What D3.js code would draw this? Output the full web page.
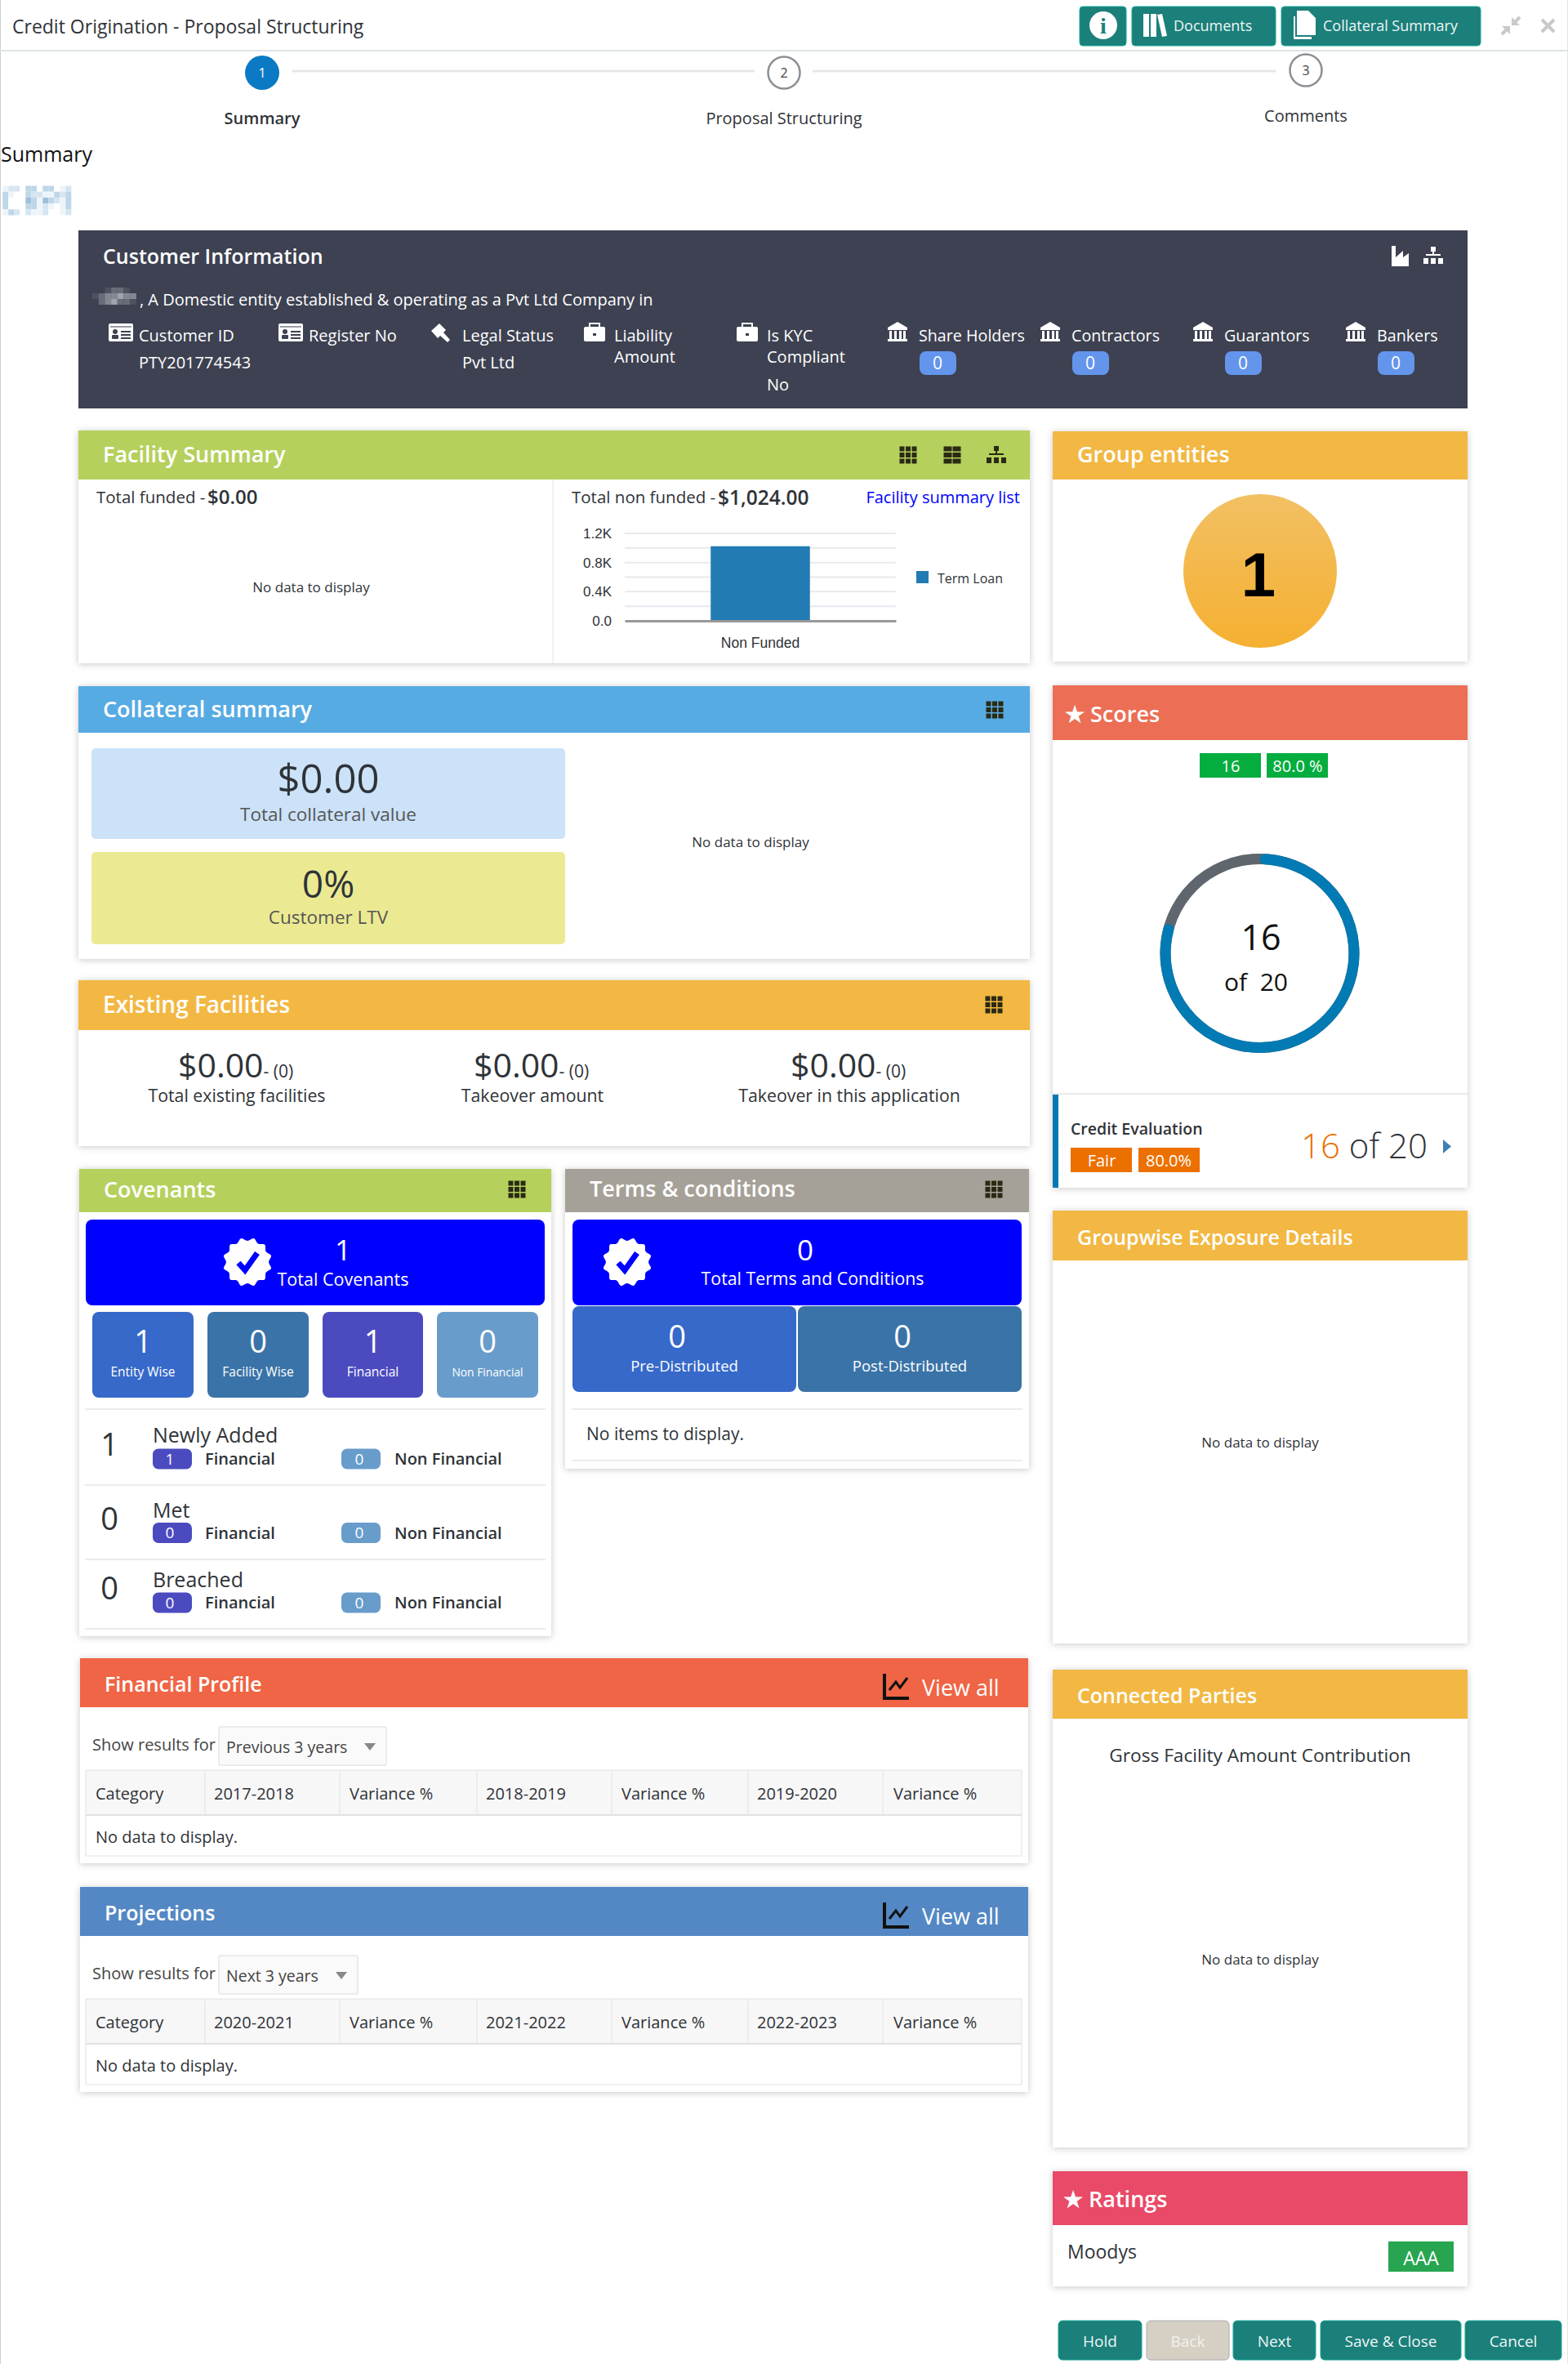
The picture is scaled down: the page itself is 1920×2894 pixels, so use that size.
<!DOCTYPE html>
<html>
<head>
<meta charset="utf-8">
<script src="https://cdn.jsdelivr.net/npm/d3@7"></script>
<style>
  html, body { margin: 0; padding: 0; background: #fff; }
  svg { display: block; font-family: "Open Sans", "Noto Sans", sans-serif; }
  text { white-space: pre; }
</style>
</head>
<body>
<svg id="page" width="1920" height="2894"></svg>
<script>
// values
const steps = ["Summary", "Proposal Structuring", "Comments"];
const topButtons = ["Documents", "Collateral Summary"];
const infoColumns = ["Customer ID", "Register No", "Legal Status"];
const infoValues = ["PTY201774543", "", "Pvt Ltd"];
const partyNames = ["Share Holders", "Contractors", "Guarantors", "Bankers"];
const partyCounts = [0, 0, 0, 0];

// facility chart
const facilityCategories = ["Non Funded"];
const facilityValues = [1024];
const facilitySeries = "Term Loan";
const facilityTicks = [0, 400, 800, 1200];
const facilityTickLabels = ["0.0", "0.4K", "0.8K", "1.2K"];
const facilityGrid = [200, 400, 600, 800, 1000, 1200];

// score ring
const scoreValue = 16;
const scoreMax = 20;

const existingAmounts = ["$0.00", "$0.00", "$0.00"];
const existingLabels = ["Total existing facilities", "Takeover amount", "Takeover in this application"];

const covenantTiles = ["Entity Wise", "Facility Wise", "Financial", "Non Financial"];
const covenantTileValues = [1, 0, 1, 0];
const covenantRows = ["Newly Added", "Met", "Breached"];
const covenantRowTotals = [1, 0, 0];
const covenantRowFinancial = [1, 0, 0];
const covenantRowNonFinancial = [0, 0, 0];

const termsTiles = ["Pre-Distributed", "Post-Distributed"];
const termsTileValues = [0, 0];

const financialColumns = ["Category", "2017-2018", "Variance %", "2018-2019", "Variance %", "2019-2020", "Variance %"];
const projectionColumns = ["Category", "2020-2021", "Variance %", "2021-2022", "Variance %", "2022-2023", "Variance %"];
const bottomButtons = ["Hold", "Back", "Next", "Save & Close", "Cancel"];

const svg = d3.select("#page");
const TEAL = "#1b7f7a", DARK = "#2f3338", ICON = "#2a2a14", SLATE = "#3d4151";

// small helpers so the page code stays readable
function box(x0, y0, x1, y1, fill, r) {
  return svg.append("rect").attr("x", x0).attr("y", y0)
    .attr("width", x1 - x0).attr("height", y1 - y0)
    .attr("rx", r || 0).attr("fill", fill);
}
function txt(x, y, s, size, fill, opts) {
  opts = opts || {};
  return svg.append("text").attr("x", x).attr("y", y).attr("dy", "0.35em")
    .attr("font-size", size).attr("fill", fill || DARK)
    .attr("font-weight", opts.weight || 400)
    .attr("text-anchor", opts.anchor || "start")
    .text(s);
}
function hline(x0, x1, y, color, w) {
  svg.append("line").attr("x1", x0).attr("x2", x1).attr("y1", y).attr("y2", y)
    .attr("stroke", color).attr("stroke-width", w || 1);
}
function vline(x, y0, y1, color, w) {
  svg.append("line").attr("x1", x).attr("x2", x).attr("y1", y0).attr("y2", y1)
    .attr("stroke", color).attr("stroke-width", w || 1);
}
function card(x0, y0, x1, headBottom, y1, color, title, o) {
  o = o || {};
  svg.append("rect").attr("x", x0).attr("y", y0).attr("width", x1 - x0).attr("height", y1 - y0)
    .attr("fill", "#fff").style("filter", "drop-shadow(0 1px 4px rgba(0,0,0,.22))");
  box(x0, y0, x1, headBottom, color);
  txt(o.x || x0 + 30, (y0 + headBottom) / 2 + (o.dy || 0), title, o.size || 27, "#fff", { weight: 600 });
}
function gridIcon(cx, cy) {
  [-7.5, 0, 7.5].forEach(dx => [-7.5, 0, 7.5].forEach(dy => {
    box(cx + dx - 3, cy + dy - 3, cx + dx + 3, cy + dy + 3, ICON);
  }));
}
function listIcon(cx, cy) {
  [-5.5, 5.5].forEach(dx => [-7.5, 0, 7.5].forEach(dy => {
    box(cx + dx - 5, cy + dy - 3, cx + dx + 5, cy + dy + 3, ICON);
  }));
}
function treeIcon(cx, cy, color) {
  box(cx - 3, cy - 11, cx + 3, cy - 5, color);
  box(cx - 1, cy - 5, cx + 1, cy, color);
  box(cx - 9, cy - 2, cx + 9, cy, color);
  [-9, 0, 9].forEach(dx => box(cx + dx - 3, cy + 3, cx + dx + 3, cy + 10, color));
}
function idIcon(x, y) {
  box(x, y - 13, x + 30, y + 9, "#fff", 2);
  hline(x + 2, x + 28, y - 9, "#9a9da6", 2);
  svg.append("circle").attr("cx", x + 8).attr("cy", y - 3).attr("r", 3).attr("fill", SLATE);
  box(x + 4, y + 1, x + 12, y + 6, SLATE, 1);
  box(x + 15, y - 4, x + 27, y - 2, SLATE);
  box(x + 15, y, x + 27, y + 2, SLATE);
  box(x + 15, y + 4, x + 27, y + 6, SLATE);
}
function caseIcon(x, y) {
  box(x + 7, y - 13, x + 19, y - 7, "none").attr("stroke", "#fff").attr("stroke-width", 2);
  box(x, y - 9, x + 26, y + 9, "#fff", 2);
  box(x + 11, y - 1, x + 15, y + 2, SLATE);
}
function bankIcon(x, y) {
  svg.append("path").attr("fill", "#fff")
    .attr("d", `M${x} ${y - 6}L${x + 12} ${y - 13}L${x + 24} ${y - 6}V${y - 3}H${x}Z`);
  [2, 8, 14, 19].forEach(dx => box(x + dx, y - 2, x + dx + 3, y + 8, "#fff"));
  box(x, y + 8, x + 24, y + 11, "#fff");
}
function viewAll(y) {
  svg.append("path").attr("fill", "none").attr("stroke", "#111").attr("stroke-width", 4)
    .attr("d", `M1083 ${y - 18}V${y + 12}H1113`);
  svg.append("path").attr("fill", "none").attr("stroke", "#111").attr("stroke-width", 3)
    .attr("d", `M1089 ${y + 2}L1097 ${y - 8}L1102 ${y - 1}L1111 ${y - 13}`);
  txt(1129, y, "View all", 27, "#fff");
}
function seal(cx, cy) {
  // white scalloped seal with a blue tick
  const pts = d3.range(24).map(i => [i * Math.PI / 12, i % 2 ? 30 : 26]);
  svg.append("path").attr("fill", "#fff")
    .attr("transform", `translate(${cx},${cy})`)
    .attr("d", d3.lineRadial().curve(d3.curveCardinalClosed)(pts));
  svg.append("path").attr("fill", "none").attr("stroke", "#0000ff").attr("stroke-width", 7)
    .attr("d", `M${cx - 11} ${cy + 1}L${cx - 3} ${cy + 10}L${cx + 12} ${cy - 11}`);
}

// page edges
vline(0.5, 0, 2894, "#cfcfcf", 1);
vline(1919.5, 0, 2894, "#e4e4e4", 1);

// top bar
txt(15, 33, "Credit Origination - Proposal Structuring", 23, DARK);
hline(0, 1920, 62, "#dde3e6", 2);
function topButton(x0, x1) {
  box(x0, 8, x1, 56, TEAL, 4).attr("stroke", "#17a898").attr("stroke-width", 1);
}
topButton(1322, 1379);
svg.append("circle").attr("cx", 1351).attr("cy", 31).attr("r", 17).attr("fill", "#fff");
txt(1351, 31, "i", 28, TEAL, { anchor: "middle", weight: 700 }).attr("font-family", "Liberation Serif");
topButton(1386, 1562);
box(1400, 17, 1407, 45, "#fff");
box(1409, 17, 1416, 45, "#fff");
svg.append("path").attr("fill", "#fff").attr("d", "M1417 18l6-1 6 27-6 1z");
txt(1437, 32, topButtons[0], 18, "#eef6f5");
topButton(1569, 1813);
svg.append("path").attr("fill", "#fff").attr("d", "M1588 13h14l9 9v21h-23zM1584 20h2v25h20v3h-22z");
txt(1620, 32, topButtons[1], 18, "#eef6f5");
// collapse and close
const greyIcon = "#c9c9c9";
svg.append("path").attr("fill", "none").attr("stroke", greyIcon).attr("stroke-width", 4)
  .attr("d", "M1861 21l-8 8M1839 42l8-8M1888 24l15 15M1903 24l-15 15");
svg.append("path").attr("fill", greyIcon).attr("d", "M1851 21v10h10zM1849 42v-10h-10z");

// wizard steps
const stepX = d3.scalePoint().domain(steps).range([321, 1599]);
hline(358, 924, 87, "#e6e7e8", 3);
hline(995, 1562, 87, "#e6e7e8", 3);
steps.forEach((s, i) => {
  const cx = stepX(s), cy = i === 2 ? 86 : 89, sy = i === 2 ? 142 : 145;
  svg.append("circle").attr("cx", cx).attr("cy", cy).attr("r", i === 0 ? 21 : 19.5)
    .attr("fill", i === 0 ? "#0b79c4" : "#fff")
    .attr("stroke", i === 0 ? "none" : "#8b8f93").attr("stroke-width", 2.5);
  txt(cx, cy, i + 1, 16, i === 0 ? "#fff" : "#444", { anchor: "middle" });
  txt(cx, sy, s, 20, DARK, { anchor: "middle", weight: i === 0 ? 600 : 400 });
});

txt(1, 189, "Summary", 25, "#111");
// blurred-out name
const mosaic = [
  [1, 2, 2, 0, 3, 3, 0, 3, 3, 0, 1, 2],
  [3, 1, 0, 0, 3, 2, 2, 1, 1, 3, 2, 3],
  [3, 0, 0, 0, 4, 3, 1, 4, 3, 2, 1, 3],
  [3, 0, 0, 0, 3, 3, 1, 2, 1, 0, 1, 3],
  [1, 3, 2, 0, 2, 1, 1, 2, 0, 0, 1, 2]
];
const mosaicColor = d3.scaleOrdinal([0, 1, 2, 3, 4], ["#ffffff", "#eef5fa", "#d5e5f1", "#bdd6e8", "#9dc0dc"]);
mosaic.forEach((row, r) => row.forEach((v, c) =>
  box(3.3 + c * 7, 227.5 + r * 7.2, 3.3 + (c + 1) * 7, 227.5 + (r + 1) * 7.2, mosaicColor(v))));

// customer information
box(96, 282, 1797, 500, SLATE);
txt(126, 314, "Customer Information", 25, "#fff", { weight: 600 });
svg.append("path").attr("fill", "#fff").attr("d", "M1704 301h5v14l9-8v8l7-5v16h-21z");
treeIcon(1755, 313, "#fff");
// blurred customer name
const nameBlur = [
  [0, 0, 1, 2, 2, 1, 0],
  [1, 2, 3, 3, 4, 3, 3],
  [0, 2, 3, 4, 2, 2, 1]
];
const blurColor = d3.scaleOrdinal([0, 1, 2, 3, 4], [SLATE, "#4d5160", "#686c79", "#848893", "#a0a3ac"]);
nameBlur.forEach((row, r) => row.forEach((v, c) =>
  box(113 + c * 7.7, 352 + r * 7, 113 + (c + 1) * 7.7, 359 + r * 7, blurColor(v))));
txt(171, 367, ", A Domestic entity established & operating as a Pvt Ltd Company in", 20, "#fff");
idIcon(133, 409);
txt(170, 411, infoColumns[0], 20, "#fff");
txt(170, 444, infoValues[0], 20, "#fff");
idIcon(341, 409);
txt(378, 411, infoColumns[1], 20, "#fff");
svg.append("path").attr("fill", "#fff").attr("d", "M528 405l10-9 8 8-3 3 8 9-3 3-9-8-3 3z");
txt(566, 411, infoColumns[2], 20, "#fff");
txt(566, 444, infoValues[2], 20, "#fff");
caseIcon(715, 409);
txt(752, 411, "Liability", 20, "#fff");
txt(752, 437, "Amount", 20, "#fff");
caseIcon(902, 409);
txt(939, 411, "Is KYC", 20, "#fff");
txt(939, 437, "Compliant", 20, "#fff");
txt(939, 471, "No", 20, "#fff");
const partyX = d3.scalePoint().domain(partyNames).range([1087, 1648]);
partyNames.forEach((p, i) => {
  const x = partyX(p);
  bankIcon(x, 407);
  txt(x + 38, 411, p, 19.7, "#fff");
  box(x + 39, 430, x + 84, 459, "#6495ed", 8);
  txt(x + 61, 445, partyCounts[i], 21, "#fff", { anchor: "middle" });
});

// facility summary
card(96, 527, 1261, 587, 812, "#b5d05c", "Facility Summary");
gridIcon(1112, 557);
listIcon(1166, 557);
treeIcon(1220, 557, ICON);
vline(677, 587, 812, "#dde6ec", 1);
txt(118, 609, "Total funded - ", 20.5, DARK);
txt(254, 609, "$0.00", 24, DARK, { weight: 600 });
txt(700, 609, "Total non funded - ", 20.5, DARK);
txt(879, 609, "$1,024.00", 24.5, DARK, { weight: 600 });
txt(1249, 609, "Facility summary list", 20, "#0000ff", { anchor: "end" });
txt(381, 719, "No data to display", 17, DARK, { anchor: "middle" });

const yFac = d3.scaleLinear().domain([0, 1200]).range([760, 653]);
const xFac = d3.scaleBand().domain(facilityCategories).range([765, 1097]).paddingOuter(0.866);
svg.append("g").selectAll("line").data(facilityGrid).join("line")
  .attr("x1", 765).attr("x2", 1097)
  .attr("y1", d => yFac(d)).attr("y2", d => yFac(d))
  .attr("stroke", "#e6eaee").attr("stroke-width", 2);
svg.append("g").selectAll("rect").data(facilityValues).join("rect")
  .attr("x", (d, i) => xFac(facilityCategories[i]))
  .attr("y", d => yFac(d))
  .attr("width", xFac.bandwidth())
  .attr("height", d => yFac(0) - yFac(d))
  .attr("fill", "#237bb3");
const yAxis = svg.append("g").attr("transform", "translate(749,0)")
  .call(d3.axisLeft(yFac).tickValues(facilityTicks)
    .tickFormat((d, i) => facilityTickLabels[i]).tickSize(0));
yAxis.select(".domain").remove();
yAxis.selectAll("text").attr("font-size", 17).attr("fill", DARK).attr("font-family", "inherit").attr("x", 0);
const xAxis = svg.append("g").attr("transform", "translate(0,760)")
  .call(d3.axisBottom(xFac).tickSize(0));
xAxis.select(".domain").attr("stroke", "#999").attr("stroke-width", 3);
xAxis.selectAll("text").attr("font-size", 17.5).attr("fill", DARK).attr("font-family", "inherit").attr("y", 21);
box(1122, 699, 1137, 714, "#237bb3");
txt(1148, 708, facilitySeries, 16, DARK);

// group entities
card(1289, 528, 1797, 587, 810, "#f2b843", "Group entities", { dy: -1 });
const orb = svg.append("defs").append("linearGradient").attr("id", "orb")
  .attr("x1", 0).attr("x2", 0).attr("y1", 0).attr("y2", 1);
orb.append("stop").attr("offset", 0).attr("stop-color", "#f2c063");
orb.append("stop").attr("offset", 1).attr("stop-color", "#f5b031");
svg.append("circle").attr("cx", 1543).attr("cy", 699).attr("r", 94).attr("fill", "url(#orb)");
txt(1541, 703, 1, 76, "#000", { anchor: "middle", weight: 700 }).attr("font-family", "Liberation Sans");

// collateral summary
card(96, 840, 1261, 897, 1174, "#57abe3", "Collateral summary");
gridIcon(1218, 869);
box(112, 916, 692, 1027, "#cbe2f8", 5);
txt(402, 954, "$0.00", 49, DARK, { anchor: "middle" });
txt(402, 997, "Total collateral value", 22.5, "#555", { anchor: "middle" });
box(112, 1043, 692, 1156, "#ebea92", 5);
txt(402, 1083, "0%", 46, DARK, { anchor: "middle" });
txt(402, 1123, "Customer LTV", 22.5, "#555", { anchor: "middle" });
txt(919, 1031, "No data to display", 17, DARK, { anchor: "middle" });

// scores
card(1289, 839, 1797, 906, 1454, "#eb6e55", "★ Scores", { x: 1304, dy: 2 });
box(1469, 922, 1544, 952, "#04ad3e");
txt(1507, 938, scoreValue, 20, "#fff", { anchor: "middle" });
box(1551, 922, 1626, 952, "#04ad3e");
txt(1589, 938, (scoreValue / scoreMax * 100).toFixed(1) + " %", 20, "#fff", { anchor: "middle" });
const ringScale = d3.scaleLinear().domain([0, scoreMax]).range([0, 2 * Math.PI]);
const ring = d3.arc().innerRadius(109).outerRadius(122);
const ringG = svg.append("g").attr("transform", "translate(1542.5,1167)");
ringG.append("path").attr("fill", "#5f666d").attr("d", ring({ startAngle: 0, endAngle: ringScale(scoreMax) }));
ringG.append("path").attr("fill", "#027ab3")
  .attr("d", ring.cornerRadius(6.5)({ startAngle: ringScale(0), endAngle: ringScale(scoreValue) }));
txt(1544, 1148, scoreValue, 43, "#111", { anchor: "middle" });
txt(1538, 1202, "of  " + scoreMax, 30, "#111", { anchor: "middle" });
hline(1289, 1797, 1339, "#e1e4e6", 1.5);
box(1289, 1340, 1296, 1454, "#027ab3");
txt(1311, 1382, "Credit Evaluation", 19.5, DARK, { weight: 600 });
box(1311, 1405, 1386, 1435, "#ec7000");
txt(1349, 1421, "Fair", 20, "#fff", { anchor: "middle" });
box(1394, 1405, 1469, 1435, "#ec7000");
txt(1431, 1421, (scoreValue / scoreMax * 100).toFixed(1) + "%", 20, "#fff", { anchor: "middle" });
const evalText = txt(1593, 1403, "", 42, DARK, { weight: 300 });
evalText.append("tspan").attr("fill", "#ec7000").text(scoreValue);
evalText.append("tspan").text(" of " + scoreMax);
svg.append("path").attr("fill", "#3f7fb5").attr("d", "M1767 1395l10 8.5-10 8.5z");

// existing facilities
card(96, 1200, 1261, 1261, 1403, "#f2b843", "Existing Facilities", { size: 28 });
gridIcon(1217, 1230);
[290, 652, 1040].forEach((cx, i) => {
  const t = txt(cx - 72, 1305, "", 41, DARK);
  t.append("tspan").text(existingAmounts[i]);
  t.append("tspan").attr("font-size", 21).text("- (0)");
  txt(cx, 1342, existingLabels[i], 21.3, DARK, { anchor: "middle" });
});

// covenants
card(97, 1431, 675, 1484, 2003, "#b5d05c", "Covenants", { dy: -1 });
gridIcon(633, 1456);
box(105, 1493, 667, 1598, "#0000ff", 8);
seal(303, 1545);
txt(420, 1531, 1, 35, "#fff", { anchor: "middle" });
txt(420, 1566, "Total Covenants", 21.5, "#fff", { anchor: "middle" });
const tileColors = ["#3669c9", "#3a73a8", "#4b4bbf", "#689ccb"];
[[113, 237], [254, 378], [395, 518], [535, 659]].forEach((p, i) => {
  const cx = (p[0] + p[1]) / 2;
  box(p[0], 1606, p[1], 1711, tileColors[i], 8);
  txt(cx, 1643, covenantTileValues[i], 38, "#fff", { anchor: "middle" });
  txt(cx, 1680, covenantTiles[i], i === 3 ? 13.8 : 15.5, "#fff", { anchor: "middle" });
});
[1725, 1818, 1909, 1994].forEach(y => hline(104, 668, y, "#e6e6e6", 1.5));
const rowY = [[1769, 1757, 1786], [1860, 1849, 1876.5], [1945, 1934, 1962]];
covenantRows.forEach((name, i) => {
  const ys = rowY[i];
  txt(134, ys[0], covenantRowTotals[i], 38, DARK, { anchor: "middle" });
  txt(187, ys[1], name, 25, DARK);
  box(187, ys[2] - 12.5, 235, ys[2] + 12.5, "#4b4bbf", 7);
  txt(208, ys[2], covenantRowFinancial[i], 19, "#fff", { anchor: "middle" });
  txt(251, ys[2], "Financial", 20, DARK, { weight: 600 });
  box(418, ys[2] - 12.5, 466, ys[2] + 12.5, "#689ccb", 7);
  txt(440, ys[2], covenantRowNonFinancial[i], 19, "#fff", { anchor: "middle" });
  txt(483, ys[2], "Non Financial", 20, DARK, { weight: 600 });
});

// terms and conditions
card(692, 1431, 1260, 1484, 1798, "#a6a198", "Terms & conditions", { x: 722, dy: -2 });
gridIcon(1217, 1456);
box(701, 1493, 1251, 1598, "#0000ff", 8);
seal(768, 1545);
txt(986, 1531, 0, 35, "#fff", { anchor: "middle" });
txt(995, 1566, "Total Terms and Conditions", 21.3, "#fff", { anchor: "middle" });
box(701, 1599, 975, 1704, "#3669c9", 8);
box(977, 1599, 1251, 1704, "#3a73a8", 8);
txt(829, 1637, termsTileValues[0], 38, "#fff", { anchor: "middle" });
txt(838, 1673, termsTiles[0], 18.5, "#fff", { anchor: "middle" });
txt(1105, 1637, termsTileValues[1], 38, "#fff", { anchor: "middle" });
txt(1114, 1673, termsTiles[1], 18.5, "#fff", { anchor: "middle" });
hline(700, 1252, 1725, "#e6e6e6", 1.5);
hline(700, 1252, 1788, "#e6e6e6", 1.5);
txt(718, 1756, "No items to display.", 21, DARK);

// financial profile and projections share the same layout
function dataPanel(top, color, title, columns, selectText, selectRight, arrowX) {
  card(98, top, 1259, top + 60, top + 251, color, title, { size: 25, dy: 2 });
  viewAll(top + 37);
  txt(113, top + 106, "Show results for", 20, "#444");
  box(268, top + 84, selectRight, top + 131, "#fafafa", 2).attr("stroke", "#e6e6e6").attr("stroke-width", 1.5);
  txt(277, top + 109, selectText, 19.5, "#444");
  svg.append("path").attr("fill", "#888").attr("d", `M${arrowX} ${top + 104}h14l-7 9z`);
  box(105, top + 137, 1251, top + 192, "#f7f7f7").attr("stroke", "#e2e2e2");
  box(105, top + 192, 1251, top + 242, "#fff").attr("stroke", "#e2e2e2");
  hline(105, 1251, top + 192, "#e2e2e2", 2);
  const colEdges = [251, 416, 584, 749, 916, 1081];
  colEdges.forEach(x => vline(x, top + 137, top + 192, "#e2e2e2", 1));
  const colText = [117, 262, 428, 595, 761, 927, 1094];
  columns.forEach((c, i) => txt(colText[i], top + 166, c, 20, DARK));
  txt(117, top + 219, "No data to display.", 20, DARK);
}
dataPanel(2030, "#ef6545", "Financial Profile", financialColumns, "Previous 3 years", 473, 446);
dataPanel(2310, "#5488c4", "Projections", projectionColumns, "Next 3 years", 438, 411);

// right column, lower panels
card(1289, 1482, 1797, 1543, 2012, "#f2b843", "Groupwise Exposure Details", { size: 25, dy: 3 });
txt(1543, 1766, "No data to display", 17, DARK, { anchor: "middle" });
card(1289, 2044, 1797, 2104, 2629, "#f2b843", "Connected Parties", { size: 25, dy: 2 });
txt(1543, 2149, "Gross Facility Amount Contribution", 22.7, DARK, { anchor: "middle" });
txt(1543, 2399, "No data to display", 17, DARK, { anchor: "middle" });
card(1289, 2658, 1797, 2724, 2799, "#e94a67", "★ Ratings", { x: 1302, dy: 2 });
txt(1307, 2757, "Moodys", 23, DARK);
box(1700, 2744, 1780, 2781, "#27a550");
txt(1740, 2765, "AAA", 23, "#fff", { anchor: "middle" });

// footer buttons
[[1296, 1398], [1404, 1505], [1510, 1611], [1617, 1789], [1794, 1912]].forEach((p, i) => {
  const off = bottomButtons[i] === "Back";
  box(p[0], 2841, p[1], 2889, off ? "#d6cfc4" : TEAL, 5)
    .attr("stroke", off ? "#a9aab0" : "#17a898").attr("stroke-width", 1);
  txt((p[0] + p[1]) / 2, 2866, bottomButtons[i], 19, off ? "#f3f1ec" : "#eef6f5", { anchor: "middle" });
});
</script>
</body>
</html>
